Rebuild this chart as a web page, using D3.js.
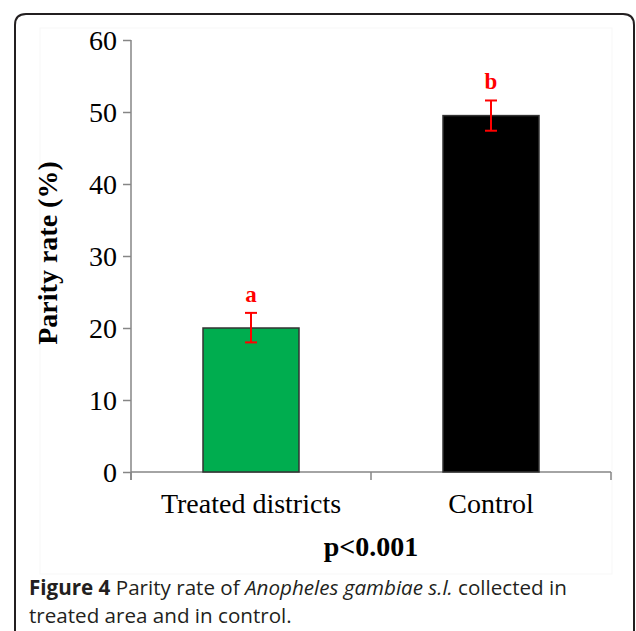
<!DOCTYPE html>
<html>
<head>
<meta charset="utf-8">
<script src="https://cdn.jsdelivr.net/npm/d3@7/dist/d3.min.js"></script>
<style>
html,body{margin:0;padding:0;background:#fff;}
svg{display:block;}
</style>
</head>
<body>
<svg id="chart" width="636" height="631"></svg>
<script>
const categories = ["Treated districts", "Control"];
const values = [20.0, 49.5];
const errLow = [18.0, 47.4];
const errHigh = [22.1, 51.6];
const sigLabels = ["a", "b"];
const barColors = ["#00ad4f", "#000000"];
const yTicks = [0, 10, 20, 30, 40, 50, 60];
const yTitle = "Parity rate (%)";
const pText = "p<0.001";

const svg = d3.select("#chart");

// Frame with rounded top corners
const fl = 15, ft = 14, fr = 634, r = 11;
svg.append("path")
  .attr("d", `M${fl},640 L${fl},${ft + r} Q${fl},${ft} ${fl + r},${ft} L${fr - r},${ft} Q${fr},${ft} ${fr},${ft + r} L${fr},640`)
  .attr("fill", "none").attr("stroke", "#231f20").attr("stroke-width", 2);

// faint image border of the embedded chart
svg.append("rect").attr("x", 40).attr("y", 28).attr("width", 572).attr("height", 546)
  .attr("fill", "none").attr("stroke", "#f7f7f7").attr("stroke-width", 1);

const x = d3.scaleBand().domain(categories).range([131, 611]).padding(0);
const y = d3.scaleLinear().domain([0, 60]).range([472, 40]);
const barW = x.bandwidth() * 0.4;
const axisColor = "#868686";
const serif = "'Liberation Serif', 'Times New Roman', serif";

// y axis
const yAxis = d3.axisLeft(y).tickValues(yTicks).tickSize(8).tickPadding(6).tickFormat(d3.format("d"));
const gy = svg.append("g").attr("transform", "translate(131,0)").call(yAxis);
gy.select(".domain").remove();
gy.selectAll(".tick line").attr("stroke", axisColor).attr("stroke-width", 1.5);
gy.selectAll(".tick text").attr("font-family", serif).attr("font-size", 28).attr("fill", "#000")
  .attr("dy", "0.33em");
svg.append("line").attr("x1", 131).attr("x2", 131).attr("y1", y(60)).attr("y2", 480)
  .attr("stroke", axisColor).attr("stroke-width", 1.5);

// x axis line and boundary ticks
svg.append("line").attr("x1", 131).attr("x2", 611).attr("y1", y(0)).attr("y2", y(0))
  .attr("stroke", axisColor).attr("stroke-width", 1.5);
const bounds = categories.map(c => x(c)).concat([x(categories[categories.length - 1]) + x.bandwidth()]);
svg.selectAll(".xb").data(bounds).enter().append("line")
  .attr("x1", d => d).attr("x2", d => d).attr("y1", y(0)).attr("y2", y(0) + 8)
  .attr("stroke", axisColor).attr("stroke-width", 1.5);

// x labels
svg.selectAll(".xl").data(categories).enter().append("text")
  .attr("x", d => x(d) + x.bandwidth() / 2).attr("y", 513)
  .attr("text-anchor", "middle").attr("font-family", serif).attr("font-size", 28).attr("fill", "#000")
  .text(d => d);

// bars
svg.selectAll(".bar").data(categories).enter().append("rect")
  .attr("x", d => x(d) + (x.bandwidth() - barW) / 2)
  .attr("y", (d, i) => y(values[i]))
  .attr("width", barW)
  .attr("height", (d, i) => y(0) - y(values[i]))
  .attr("fill", (d, i) => barColors[i])
  .attr("stroke", "#333").attr("stroke-width", 1.5);

// error bars
const capW = 12;
const eg = svg.selectAll(".err").data(categories).enter().append("g")
  .attr("stroke", "#ff0000").attr("stroke-width", 2);
eg.append("line").attr("x1", d => x(d) + x.bandwidth() / 2).attr("x2", d => x(d) + x.bandwidth() / 2)
  .attr("y1", (d, i) => y(errLow[i])).attr("y2", (d, i) => y(errHigh[i]));
eg.append("line").attr("x1", d => x(d) + x.bandwidth() / 2 - capW / 2).attr("x2", d => x(d) + x.bandwidth() / 2 + capW / 2)
  .attr("y1", (d, i) => y(errLow[i])).attr("y2", (d, i) => y(errLow[i]));
eg.append("line").attr("x1", d => x(d) + x.bandwidth() / 2 - capW / 2).attr("x2", d => x(d) + x.bandwidth() / 2 + capW / 2)
  .attr("y1", (d, i) => y(errHigh[i])).attr("y2", (d, i) => y(errHigh[i]));

// significance letters
svg.selectAll(".sig").data(categories).enter().append("text")
  .attr("x", d => x(d) + x.bandwidth() / 2).attr("y", (d, i) => y(errHigh[i]) - 11)
  .attr("text-anchor", "middle").attr("font-family", serif).attr("font-weight", "bold")
  .attr("font-size", 23).attr("fill", "#ff0000")
  .text((d, i) => sigLabels[i]);

// y title
svg.append("text").attr("transform", "translate(57,253) rotate(-90)")
  .attr("text-anchor", "middle").attr("font-family", serif).attr("font-weight", "bold")
  .attr("font-size", 28).attr("fill", "#000").text(yTitle);

// p value
svg.append("text").attr("x", 371).attr("y", 556).attr("text-anchor", "middle")
  .attr("font-family", serif).attr("font-weight", "bold").attr("font-size", 28).attr("fill", "#000")
  .text(pText);

// caption
const cap = svg.append("g").attr("font-family", "'Open Sans', 'Noto Sans', sans-serif").attr("fill", "#231f20");
const l1 = cap.append("text").attr("x", 29).attr("y", 594.5).attr("font-size", 20.6);
l1.append("tspan").attr("font-weight", "bold").text("Figure 4");
l1.append("tspan").text(" Parity rate of ");
l1.append("tspan").attr("font-style", "italic").text("Anopheles gambiae s.l.");
l1.append("tspan").text(" collected in");
cap.append("text").attr("x", 29).attr("y", 623).attr("font-size", 20.6).text("treated area and in control.");
</script>
</body>
</html>
